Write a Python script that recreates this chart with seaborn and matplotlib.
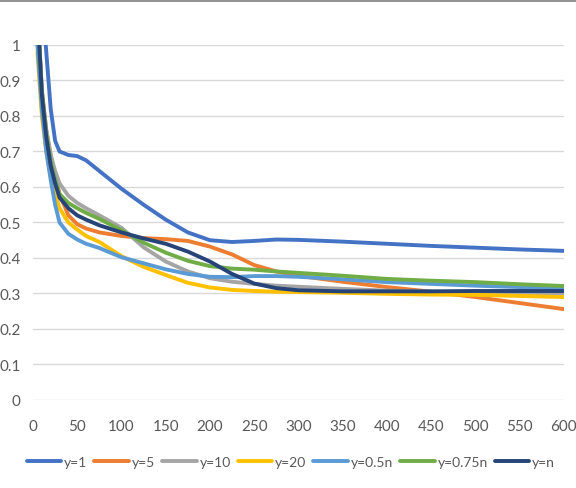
import numpy as np
import pandas as pd
import matplotlib
matplotlib.use("Agg")
import matplotlib.pyplot as plt
from matplotlib.lines import Line2D
import seaborn as sns

# x positions of the readings
x_vals = [5, 10, 15, 20, 25, 30, 40, 50, 60, 75, 100, 125, 150, 175, 200,
          225, 250, 275, 300, 350, 400, 450, 500, 550, 600]

y_1 = [1.6, 1.15, 0.98, 0.82, 0.73, 0.70, 0.69, 0.687, 0.675, 0.645, 0.595, 0.55, 0.508,
       0.472, 0.45, 0.445, 0.448, 0.452, 0.451, 0.446, 0.44, 0.434, 0.429, 0.424, 0.42]
y_5 = [1.1, 0.87, 0.76, 0.69, 0.63, 0.58, 0.52, 0.495, 0.483, 0.472, 0.462, 0.456, 0.453,
       0.448, 0.432, 0.41, 0.38, 0.362, 0.35, 0.333, 0.318, 0.305, 0.29, 0.273, 0.256]
y_10 = [1.1, 0.87, 0.76, 0.69, 0.645, 0.61, 0.575, 0.555, 0.54, 0.52, 0.485, 0.43, 0.39,
        0.362, 0.343, 0.333, 0.327, 0.322, 0.319, 0.313, 0.308, 0.305, 0.303, 0.301, 0.30]
y_20 = [0.98, 0.80, 0.70, 0.63, 0.58, 0.54, 0.50, 0.48, 0.462, 0.445, 0.405, 0.375, 0.352,
        0.33, 0.317, 0.31, 0.307, 0.305, 0.304, 0.302, 0.299, 0.297, 0.296, 0.293, 0.29]
y_05n = [1.0, 0.82, 0.70, 0.62, 0.55, 0.50, 0.468, 0.452, 0.44, 0.428, 0.402, 0.385, 0.368,
         0.355, 0.347, 0.346, 0.349, 0.349, 0.347, 0.34, 0.332, 0.327, 0.322, 0.318, 0.315]
y_075n = [1.1, 0.87, 0.75, 0.67, 0.62, 0.58, 0.555, 0.54, 0.527, 0.51, 0.478, 0.443, 0.415,
          0.392, 0.377, 0.37, 0.367, 0.362, 0.358, 0.35, 0.341, 0.336, 0.332, 0.326, 0.321]
y_n = [1.1, 0.86, 0.74, 0.66, 0.61, 0.57, 0.54, 0.52, 0.508, 0.492, 0.472, 0.455, 0.44,
       0.418, 0.39, 0.355, 0.328, 0.315, 0.309, 0.306, 0.306, 0.306, 0.307, 0.307, 0.307]

series_names = ["y=1", "y=5", "y=10", "y=20", "y=0.5n", "y=0.75n", "y=n"]
series_vals = [y_1, y_5, y_10, y_20, y_05n, y_075n, y_n]
colors = ["#4472C4", "#ED7D31", "#A5A5A5", "#FFC000", "#5B9BD5", "#70AD47", "#264478"]

df = pd.concat([pd.DataFrame({"x": x_vals, "y": v, "series": n})
                for n, v in zip(series_names, series_vals)])

sns.set_style("white")
plt.rcParams["font.family"] = ["Lato", "DejaVu Sans"]

fig = plt.figure(figsize=(5.76, 4.89), dpi=100)
ax = fig.add_axes([0.0573, 0.18, 0.9217, 0.726])

sns.lineplot(data=df, x="x", y="y", hue="series", hue_order=series_names,
             palette=colors, linewidth=2.8, ax=ax, legend=False, sort=False)

ax.set_xlim(0, 600)
ax.set_ylim(0, 1)
ax.set_xticks(np.arange(0, 601, 50))
ax.set_yticks(np.arange(0, 1.01, 0.1))
ax.set_yticklabels(["0", "0.1", "0.2", "0.3", "0.4", "0.5", "0.6", "0.7", "0.8", "0.9", "1"])
ax.grid(axis="y", color="#D9D9D9", linewidth=1)
ax.grid(axis="x", visible=False)
ax.set_axisbelow(True)
for s in ax.spines.values():
    s.set_visible(False)
ax.tick_params(axis="both", length=0, colors="#595959", labelsize=11)
ax.tick_params(axis="y", pad=9)
ax.tick_params(axis="x", pad=14)
ax.set_xlabel("")
ax.set_ylabel("")

handles = [Line2D([0], [0], color=c, linewidth=2.8) for c in colors]
fig.legend(handles, series_names, loc="center", bbox_to_anchor=(0.505, 0.053),
           ncol=7, frameon=False, fontsize=10, handlelength=2.5,
           handletextpad=0.2, columnspacing=0.5, labelcolor="#595959")

# thin frame line across the top
fig.add_artist(Line2D([0, 1], [0.996, 0.996], color="#7F7F7F", linewidth=1.2))

fig.savefig("out.png", dpi=100)
